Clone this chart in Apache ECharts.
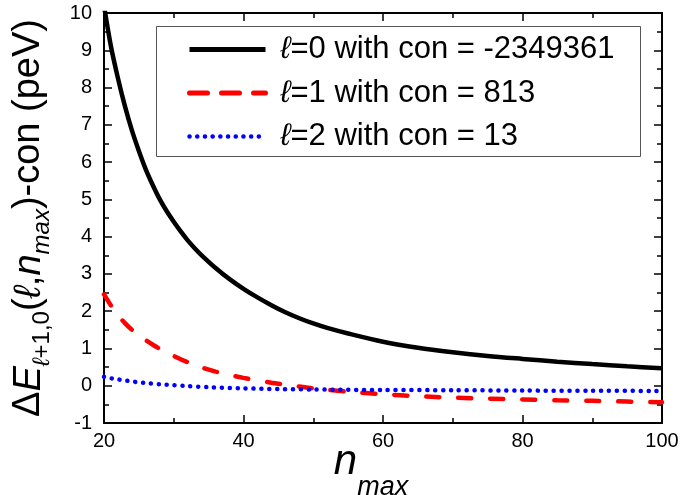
<!DOCTYPE html>
<html><head><meta charset="utf-8">
<script src="https://cdn.jsdelivr.net/npm/echarts@6/dist/echarts.min.js"></script>
<style>html,body{margin:0;padding:0;background:#fff}#c{width:680px;height:495px}</style>
</head><body><div id="c"></div>
<script>
// ---- data ----
const seriesNames = ['ℓ=0 with con = -2349361', 'ℓ=1 with con = 813', 'ℓ=2 with con = 13'];
const nL0 = [20,21,22,23,24,25,26,27,28,29,30,31,32,33,34,36,38,40,42,44,46,48,50,52,55,60,65,70,75,80,85,90,95,100];
const vL0 = [10.2,9.1,8.25,7.5,6.85,6.3,5.8,5.38,5.0,4.68,4.4,4.14,3.9,3.69,3.5,3.16,2.86,2.6,2.37,2.16,1.97,1.81,1.67,1.55,1.4,1.18,1.02,0.9,0.8,0.72,0.645,0.58,0.52,0.47];
const nL1 = [20,21,22,23,24,25,26,27,28,30,32,34,36,38,40,42,44,46,48,50,52,55,60,65,70,75,80,85,90,95,100];
const vL1 = [2.45,2.15,1.89,1.68,1.5,1.35,1.22,1.1,0.99,0.8,0.63,0.49,0.38,0.29,0.21,0.14,0.08,0.03,-0.02,-0.07,-0.11,-0.16,-0.23,-0.28,-0.32,-0.345,-0.37,-0.39,-0.405,-0.425,-0.445];
const nL2 = [20,21,22,23,24,25,26,28,30,32,35,40,45,50,55,60,70,80,90,100];
const vL2 = [0.24,0.2,0.17,0.14,0.115,0.09,0.07,0.04,0.015,-0.01,-0.04,-0.07,-0.09,-0.1,-0.11,-0.115,-0.12,-0.13,-0.135,-0.14];
const xMin = 20, xMax = 100, xStep = 20;
const yMin = -1, yMax = 10, yStep = 1;

const FONT = 'Liberation Sans, Arial, sans-serif';
const pairs = (xs, ys) => xs.map((x, i) => [x, ys[i]]);

function axisBase(showLabels) {
  return {
    axisLine: { show: true, onZero: false, lineStyle: { color: '#000', width: 2 } },
    axisTick: { show: true, inside: true, length: 8, lineStyle: { color: '#000', width: 1.5 } },
    minorTick: { show: true, splitNumber: 2, length: 5, lineStyle: { color: '#000', width: 1.5 } },
    splitLine: { show: false },
    minorSplitLine: { show: false },
    axisLabel: { show: showLabels, color: '#000', fontSize: 20, fontFamily: FONT },
  };
}

const yRich = {
  m:  { fontSize: 38, lineHeight: 50, verticalAlign: 'middle', fontFamily: FONT, color: '#000' },
  mi: { fontSize: 38, lineHeight: 50, verticalAlign: 'middle', fontFamily: FONT, fontStyle: 'italic', color: '#000' },
  s:  { fontSize: 24, lineHeight: 10, verticalAlign: 'bottom', fontFamily: FONT, color: '#000' },
  si: { fontSize: 24, lineHeight: 10, verticalAlign: 'bottom', fontFamily: FONT, fontStyle: 'italic', color: '#000' }
};
const xRich = {
  mi: { fontSize: 42, lineHeight: 78, verticalAlign: 'middle', fontFamily: FONT, fontStyle: 'italic', color: '#000' },
  si: { fontSize: 27, lineHeight: 10, verticalAlign: 'bottom', fontFamily: FONT, fontStyle: 'italic', color: '#000' }
};

const chart = echarts.init(document.getElementById('c'), null, { renderer: 'canvas' });
chart.setOption({
  animation: false,
  backgroundColor: '#fff',
  grid: { left: 104, right: 18, top: 13, bottom: 72, containLabel: false, outerBoundsMode: 'none' },
  xAxis: [
    Object.assign(axisBase(true), {
      type: 'value', min: xMin, max: xMax, interval: xStep, position: 'bottom',
      name: '{mi|n}{si|max}', nameLocation: 'middle', nameGap: 0, nameMoveOverlap: false,
      nameTextStyle: { rich: xRich, padding: [0, 24, 0, 0] },
    }),
    Object.assign(axisBase(false), { type: 'value', min: xMin, max: xMax, interval: xStep, position: 'top' })
  ],
  yAxis: [
    Object.assign(axisBase(true), {
      type: 'value', min: yMin, max: yMax, interval: yStep, position: 'left',
      name: '{m|Δ}{mi|E}{si|ℓ}{s|+1,0}{m|(}{mi|ℓ}{m|,}{mi|n}{si|max}{m|)-con (peV)}',
      nameLocation: 'middle', nameGap: 50, nameMoveOverlap: false,
      nameTextStyle: { rich: yRich },
      axisLabel: { show: true, color: '#000', fontSize: 20, fontFamily: FONT, margin: 12 }
    }),
    Object.assign(axisBase(false), { type: 'value', min: yMin, max: yMax, interval: yStep, position: 'right' })
  ],
  legend: {
    orient: 'vertical', left: 187, top: 34, padding: 0,
    itemWidth: 76, itemHeight: 30, itemGap: 12.5,
    itemStyle: { opacity: 0, borderWidth: 0 },
    lineStyle: { width: 5 },
    data: [
      { name: seriesNames[0] },
      { name: seriesNames[1], lineStyle: { width: 5, type: [18, 14], cap: 'round' } },
      { name: seriesNames[2], lineStyle: { width: 4.5, type: [0.1, 7.6], cap: 'round' } }
    ],
    formatter: (name) => name.replace('ℓ', '{i|ℓ}'),
    textStyle: {
      fontSize: 31, fontFamily: FONT, color: '#000', lineHeight: 30, padding: [0, 0, 0, 10],
      rich: { i: { fontSize: 31, fontFamily: FONT, fontStyle: 'italic', color: '#000', lineHeight: 30 } }
    }
  },
  graphic: [
    { type: 'rect', left: 154, top: 24, z: 100, silent: true,
      shape: { width: 484, height: 130 },
      style: { fill: 'none', stroke: '#555', lineWidth: 1 } }
  ],
  series: [
    { name: seriesNames[0], type: 'line', data: pairs(nL0, vL0), symbol: 'none', smooth: 0.3,
      lineStyle: { color: '#000', width: 4.5 }, itemStyle: { color: '#000' } },
    { name: seriesNames[1], type: 'line', data: pairs(nL1, vL1), symbol: 'none', smooth: 0.3,
      lineStyle: { color: '#ff0000', width: 4.5, type: [13, 19], cap: 'round' }, itemStyle: { color: '#ff0000' } },
    { name: seriesNames[2], type: 'line', data: pairs(nL2, vL2), symbol: 'none', smooth: 0.3,
      lineStyle: { color: '#0000ff', width: 4.5, type: [0.1, 7.8], cap: 'round' }, itemStyle: { color: '#0000ff' } }
  ]
});
</script></body></html>
